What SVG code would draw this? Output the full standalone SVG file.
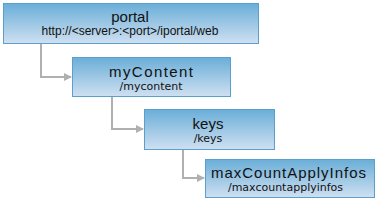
<svg xmlns="http://www.w3.org/2000/svg" width="376" height="201" viewBox="0 0 376 201">
<style>
.box{fill:url(#g);stroke:#5b9fcc;stroke-width:1}
.t{font-family:"Liberation Sans",Arial,sans-serif;font-size:15px;fill:#111;text-anchor:middle}
.s{font-family:"DejaVu Sans",Verdana,sans-serif;font-size:11px;fill:#111;text-anchor:middle}
.u{font-family:"Liberation Sans",Arial,sans-serif;font-size:12px;fill:#111;text-anchor:middle}
.c{fill:none;stroke:#b0b0b0;stroke-width:2}
</style>
<defs>
<linearGradient id="g" x1="0" y1="0" x2="0" y2="1">
<stop offset="0" stop-color="#6aaed8"/>
<stop offset="1" stop-color="#cfe0f1"/>
</linearGradient>
<marker id="a" markerWidth="8" markerHeight="8" refX="7" refY="4" orient="auto" markerUnits="userSpaceOnUse">
<path d="M0,0 L8,4 L0,8 z" fill="#b0b0b0"/>
</marker>
</defs>
<g id="connectors">
<path class="c" d="M41,44 V77 H71" marker-end="url(#a)"/>
<path class="c" d="M112,97 V129 H143" marker-end="url(#a)"/>
<path class="c" d="M183,150 V178 H204" marker-end="url(#a)"/>
</g>
<g id="portal">
<rect class="box" x="3.5" y="3.5" width="255" height="40"/>
<text class="t" x="130" y="22">portal</text>
<text class="u" x="130" y="35">http://&lt;server&gt;:&lt;port&gt;/iportal/web</text>
</g>
<g id="myContent">
<rect class="box" x="72.5" y="57.5" width="158" height="39"/>
<text class="t" x="151" y="77" textLength="84" lengthAdjust="spacing">myContent</text>
<text class="s" x="151" y="90">/mycontent</text>
</g>
<g id="keys">
<rect class="box" x="144.5" y="109.5" width="130" height="40"/>
<text class="t" x="208" y="129">keys</text>
<text class="s" x="208" y="142">/keys</text>
</g>
<g id="maxCountApplyInfos">
<rect class="box" x="205.5" y="159.5" width="169" height="38"/>
<text class="t" x="288.5" y="178" textLength="155" lengthAdjust="spacing">maxCountApplyInfos</text>
<text class="s" x="285.5" y="191">/maxcountapplyinfos</text>
</g>
</svg>
